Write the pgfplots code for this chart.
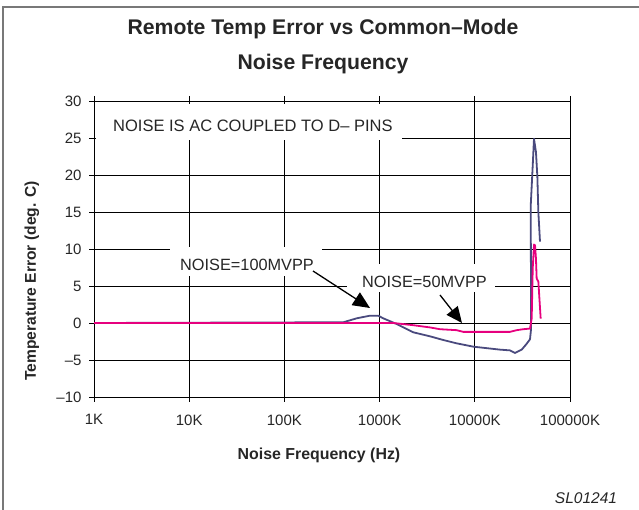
\documentclass[border=0pt]{standalone}
\usepackage{fontspec}
\setmainfont{Liberation Sans}
\usepackage{pgfplots}
\pgfplotsset{compat=1.18}
\usetikzlibrary{arrows.meta}
\definecolor{navyline}{RGB}{74,74,126}
\definecolor{magline}{RGB}{230,0,126}
\definecolor{framegray}{RGB}{120,120,120}

\pgfplotstableread{
f v
1 0
416 0.1
574 0.63
793 0.99
968 0.99
1093 0.63
1513 -0.14
2262 -1.26
3382 -1.8
4670 -2.3
6450 -2.75
9640 -3.2
13330 -3.4
18400 -3.6
23400 -3.7
26400 -4.05
31100 -3.6
35100 -2.8
38000 -2.2
39000 -0.8
38700 15.9
40600 21.3
41850 24.9
43900 23.1
45400 19.8
46500 15.0
48400 11.0
}\navydata

\pgfplotstableread{
f v
1 0
1393 0
2262 -0.3
3382 -0.6
4310 -0.84
6450 -0.97
7570 -1.2
14450 -1.2
23400 -1.2
27540 -0.97
32350 -0.84
38000 -0.75
39600 0.6
40600 7.4
41900 10.6
42900 10.5
43900 8.7
44650 6.0
46500 5.6
49200 0.6
}\magdata

\begin{document}
\begin{tikzpicture}[x=1pt,y=1pt]
\useasboundingbox (0,0) rectangle (639,510);
\draw[framegray, line width=1.5pt] (3,0) -- (3,503) -- (639,503);
\begin{axis}[
  at={(94pt,113pt)}, anchor=south west, scale only axis,
  width=476pt, height=296pt,
  xmode=log, log basis x=10, xmin=1, xmax=100000, ymin=-10, ymax=30,
  xtick={1,10,100,1000,10000,100000},
  xticklabels={1K,10K,100K,1000K,10000K,100000K},
  ytick={-10,-5,0,5,10,15,20,25,30},
  yticklabels={–10,–5,0,5,10,15,20,25,30},
  xminorticks=false,
  grid=major,
  major grid style={black, line width=0.7pt},
  axis line style={black, line width=0.9pt},
  tick style={black, line width=0.7pt},
  tick align=outside, major tick length=5pt,
  xtick pos=both, ytick pos=left,
  ticklabel style={font=\fontsize{15}{18}\selectfont, text=black!85},
  xticklabel style={yshift=-9pt},
  yticklabel style={xshift=-4pt},
]
\addplot[navyline, line width=1.8pt, line join=round, mark=none] table[x=f,y=v] {\navydata};
\addplot[magline, line width=1.8pt, line join=round, mark=none] table[x=f,y=v] {\magdata};
\end{axis}
% titles
\node[anchor=base, font=\bfseries\fontsize{21.2}{24}\selectfont, text=black!85] at (323,475) {Remote Temp Error vs Common–Mode};
\node[anchor=base, font=\bfseries\fontsize{21.2}{24}\selectfont, text=black!85] at (323,440) {Noise Frequency};
\node[rotate=90, font=\bfseries\fontsize{15.6}{18}\selectfont, text=black!85] at (32,229) {Temperature Error (deg. C)};
\node[font=\bfseries\fontsize{15.9}{18}\selectfont, text=black!85] at (319,55) {Noise Frequency (Hz)};
\node[font=\itshape\fontsize{15.5}{18}\selectfont, text=black!85] at (586,12) {SL01241};
% annotations
\fill[white] (96,370) rectangle (402,406);
\node[anchor=base west, inner sep=0pt, font=\fontsize{16.5}{19}\selectfont, text=black!85] at (113,378.3) {NOISE IS AC COUPLED TO D– PINS};
\fill[white] (170,234) rectangle (322,263);
\node[anchor=base west, inner sep=0pt, font=\fontsize{16.3}{19}\selectfont, text=black!85] at (180,239.3) {NOISE=100MVPP};
\fill[white] (347,218) rectangle (495,246);
\node[anchor=base west, inner sep=0pt, font=\fontsize{16.3}{19}\selectfont, text=black!85] at (362,222.7) {NOISE=50MVPP};
\draw[black, line width=1.3pt, -{Triangle[length=17pt,width=15pt]}] (313,239) -- (370,202);
\draw[black, line width=1.3pt, -{Triangle[length=16pt,width=14pt]}] (440,215) -- (462,187);
\end{tikzpicture}
\end{document}
